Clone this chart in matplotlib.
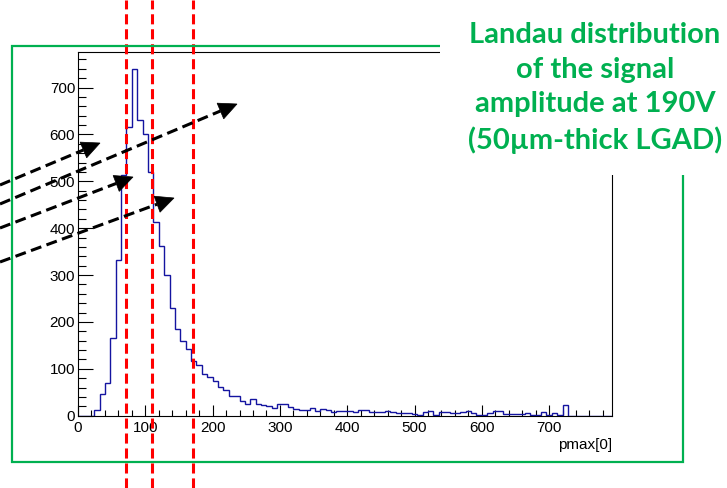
import numpy as np
import matplotlib
matplotlib.use("Agg")
import matplotlib.pyplot as plt
from matplotlib.patches import Rectangle, Polygon
from matplotlib.lines import Line2D
from matplotlib.ticker import MultipleLocator

plt.rcParams["font.family"] = ["Liberation Sans", "DejaVu Sans"]

# Histogram of pmax[0]: 8-unit bins from 0 to 800
bin_width = 8
counts = [0, 0, 0, 12, 46, 70, 165, 332, 513, 616, 739, 630, 602, 521, 414, 363, 300, 229, 184, 159,
          142, 117, 108, 89, 82, 73, 62, 54, 43, 41, 32, 25, 36, 24, 22, 21, 16, 24, 24, 19,
          14, 12, 12, 17, 11, 15, 12, 7, 11, 11, 11, 8, 12, 12, 8, 8, 8, 11, 7, 5,
          5, 5, 4, 2, 8, 11, 2, 7, 8, 5, 5, 7, 10, 5, 2, 2, 5, 9, 10, 4,
          4, 4, 3, 6, 2, 2, 7, 2, 6, 1, 22, 0, 0, 0, 0, 0, 0, 0, 0, 0]
edges = np.arange(len(counts) + 1) * bin_width

# Amplitudes highlighted with vertical dashed markers
marker_lines = [71.5, 110.5, 171.5]

x_label = "pmax[0]"
title_text = "Landau distribution\nof the signal\namplitude at 190V\n(50\u00b5m-thick LGAD)"

W, H = 727, 488
fig = plt.figure(figsize=(W / 100, H / 100), dpi=100)


def fx(px):
    return px / W


def fy(py):
    return 1 - py / H


ax_left, ax_right, ax_top, ax_bottom = 78.0, 611.7, 52.0, 415.7
ax = fig.add_axes([fx(ax_left), fy(ax_bottom), (ax_right - ax_left) / W, (ax_bottom - ax_top) / H])

ax.stairs(counts, edges, color="#1414a0", lw=1.0, zorder=2)

ax.set_xlim(0, 793)
ax.set_ylim(0, 776)
ax.xaxis.set_major_locator(MultipleLocator(100))
ax.xaxis.set_minor_locator(MultipleLocator(20))
ax.yaxis.set_major_locator(MultipleLocator(100))
ax.yaxis.set_minor_locator(MultipleLocator(20))
ax.tick_params(which="both", direction="in", top=False, right=False,
               labelsize=11, width=0.8, color="black")
ax.tick_params(axis="y", which="major", length=10.8, pad=2)
ax.tick_params(axis="y", which="minor", length=5.8)
ax.tick_params(axis="x", which="major", length=8, pad=4)
ax.tick_params(axis="x", which="minor", length=4.3)
for s in ax.spines.values():
    s.set_linewidth(0.8)
    s.set_color("black")
ax.set_xlabel(x_label, loc="right", fontsize=11, labelpad=2)

# vertical red dashed markers spanning the whole figure height
ax_h = ax_bottom - ax_top
for xv in marker_lines:
    ax.axvline(xv, ymin=-(H - ax_bottom) / ax_h, ymax=ax_bottom / ax_h,
               clip_on=False, color="#ff0000", lw=2.2, dashes=(3.3, 1.6), zorder=5)

# green frame around the plot
fig.add_artist(Rectangle((fx(12), fy(462)), (683 - 12) / W, (462 - 46) / H,
                         transform=fig.transFigure, fill=False,
                         edgecolor="#00b050", lw=1.6, zorder=2))

# white panel behind the caption
fig.add_artist(Rectangle((fx(440), fy(175)), 1 - fx(440), 175 / H,
                         transform=fig.transFigure, facecolor="white",
                         edgecolor="none", zorder=3))

fig.text(fx(595), fy(88), title_text, ha="center", va="center",
         color="#00b050", fontsize=21, fontweight="bold",
         family=["Lato", "DejaVu Sans"], linespacing=1.4, zorder=6)

# dashed pointer arrows (pixel positions, origin top-left)
arrows = [((0, 185), (100, 143)),
          ((0, 204), (237, 104)),
          ((0, 228), (133, 177)),
          ((0, 262), (174, 198))]
head_len, head_half = 18.0, 8.5
for (x0, y0), (x1, y1) in arrows:
    d = np.array([x1 - x0, y1 - y0], dtype=float)
    d /= np.hypot(*d)
    n = np.array([-d[1], d[0]])
    tip = np.array([x1, y1], dtype=float)
    base = tip - head_len * d
    fig.add_artist(Line2D([fx(x0), fx(base[0])], [fy(y0), fy(base[1])],
                          transform=fig.transFigure, color="black", lw=2.2,
                          dashes=(3.6, 1.8), zorder=7))
    pts = [tip, base + head_half * n, base - head_half * n]
    fig.add_artist(Polygon([(fx(p[0]), fy(p[1])) for p in pts], closed=True,
                           transform=fig.transFigure, facecolor="black",
                           edgecolor="black", lw=0.5, zorder=7))

fig.savefig("out.png", dpi=100)
